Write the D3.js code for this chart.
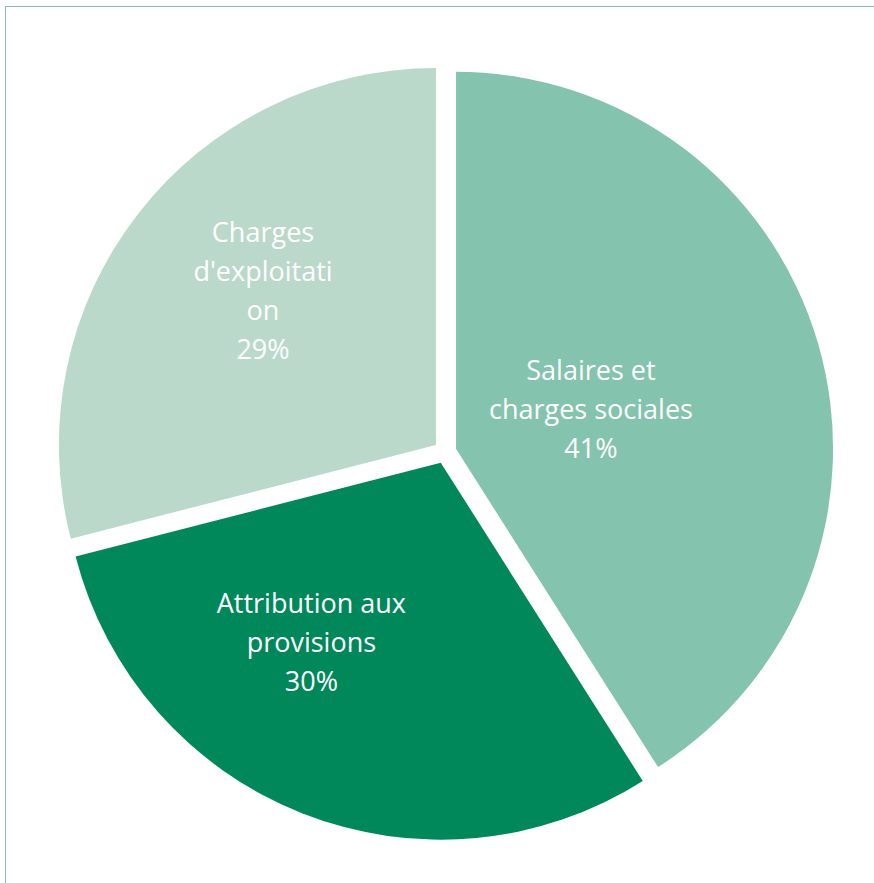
<!DOCTYPE html>
<html>
<head>
<meta charset="utf-8">
<script src="https://cdn.jsdelivr.net/npm/d3@7"></script>
<style>
  body { margin: 0; background: #fff; }
  svg { display: block; }
</style>
</head>
<body>
<script>
var w = 874;
var h = 883;

// chart data
var categories = ["Salaires et charges sociales", "Attribution aux provisions", "Charges d'exploitation"];
var values = [41, 30, 29];
var labelLines = [
    ["Salaires et", "charges sociales", "41%"],
    ["Attribution aux", "provisions", "30%"],
    ["Charges", "d'exploitati", "on", "29%"]
];
var colors = ["#84c3ad", "#00875a", "#bad9ca"];

var cx = 445, cy = 452;
var radius = 377;
var explode = 11.5;
// label placement: angle (deg, clockwise from top) and distance from centre
var labelPos = [
    {angle: 73.8, r: 152},
    {angle: 215, r: 233},
    {angle: 311.5, r: 243}
];

var svg = d3.select("body")
    .append("svg")
    .attr("width", w)
    .attr("height", h);

// frame lines (top and left)
svg.append("line")
    .attr("x1", 5.5).attr("y1", 6.5).attr("x2", w).attr("y2", 6.5)
    .attr("stroke", "#8dbca6").attr("stroke-width", 1);
svg.append("line")
    .attr("x1", 5.5).attr("y1", 6.5).attr("x2", 5.5).attr("y2", h)
    .attr("stroke", "#8dbca6").attr("stroke-width", 1);

var pie = d3.pie().sort(null).value(function (d) { return d; });
var arcs = pie(values);

var arc = d3.arc().innerRadius(0).outerRadius(radius);

var g = svg.append("g")
    .attr("transform", "translate(" + cx + "," + cy + ")");

g.selectAll("path")
    .data(arcs)
    .enter()
    .append("path")
    .attr("d", arc)
    .attr("fill", function (d, i) { return colors[i]; })
    .attr("transform", function (d) {
        var a = (d.startAngle + d.endAngle) / 2;
        return "translate(" + (Math.sin(a) * explode) + "," + (-Math.cos(a) * explode) + ")";
    });

// labels
var lineH = 39;
var labels = g.selectAll(".slice-label")
    .data(arcs)
    .enter()
    .append("text")
    .attr("class", "slice-label")
    .attr("fill", "#fff")
    .attr("font-family", "'Open Sans', sans-serif")
    .attr("font-size", 27)
    .attr("text-anchor", "middle")
    .attr("transform", function (d, i) {
        var a = labelPos[i].angle * Math.PI / 180;
        return "translate(" + (Math.sin(a) * labelPos[i].r) + "," + (-Math.cos(a) * labelPos[i].r) + ")";
    });

labels.each(function (d, i) {
    var lines = labelLines[i];
    var t = d3.select(this);
    lines.forEach(function (s, j) {
        t.append("tspan")
            .attr("x", 0)
            .attr("y", (j - (lines.length - 1) / 2) * lineH)
            .attr("dy", "0.35em")
            .text(s);
    });
});
</script>
</body>
</html>
